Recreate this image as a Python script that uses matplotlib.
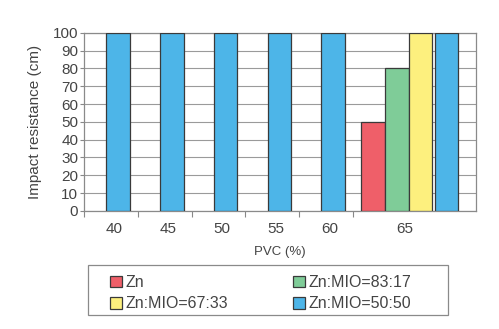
import numpy as np
import matplotlib
matplotlib.use("Agg")
import matplotlib.pyplot as plt
from matplotlib.patches import Patch, Rectangle

plt.rcParams["font.family"] = ["Liberation Sans", "DejaVu Sans"]

# data
pvc = ["40", "45", "50", "55", "60", "65"]
blue_5050 = [100, 100, 100, 100, 100, 100]
zn_65 = 50
mio_8317_65 = 80
mio_6733_65 = 100

series_names = ["Zn", "Zn:MIO=83:17", "Zn:MIO=67:33", "Zn:MIO=50:50"]
colors = ["#ef5f69", "#7fcc98", "#fdf07e", "#4db5e8"]
edge = "#3a3a3a"
text_c = "#444444"

# category boundaries (last group is wider, holds all four series)
cat_w = [1, 1, 1, 1, 1, 2.28]
edges = np.concatenate([[0], np.cumsum(cat_w)])
bw = 0.44

W, H = 499, 329
fig = plt.figure(figsize=(W / 100, H / 100), dpi=100)
ax = fig.add_axes([0.168, 0.359, 0.786, 0.541])

# single-series categories
for i in range(5):
    ax.bar(edges[i] + 0.41, blue_5050[i], width=bw, align="edge",
           color=colors[3], edgecolor=edge, linewidth=0.9, zorder=3)

# last category: four bars
x0 = edges[5] + 0.15
vals65 = [zn_65, mio_8317_65, mio_6733_65, blue_5050[5]]
for k, v in enumerate(vals65):
    off = k * bw + (0.04 if k == 3 else 0)
    ax.bar(x0 + off, v, width=bw, align="edge",
           color=colors[k], edgecolor=edge, linewidth=0.9, zorder=3)

ax.set_xlim(edges[0], edges[-1])
ax.set_ylim(0, 100)
ax.set_yticks(np.arange(0, 101, 10))
ax.yaxis.grid(True, color="#9a9a9a", linewidth=0.8, zorder=0)
ax.set_axisbelow(True)

# category ticks at boundaries, labels near bars
ax.set_xticks(edges[:-1], minor=False)
ax.set_xticklabels([])
label_pos = [edges[i] + 0.57 for i in range(5)] + [edges[5] + 0.96]
ax.set_xticks(label_pos, minor=True)
ax.set_xticklabels(pvc, minor=True)
ax.tick_params(axis="x", which="minor", length=0, pad=8, labelsize=11, labelcolor=text_c)
ax.tick_params(axis="x", which="major", length=4, color="#888888")
ax.tick_params(axis="y", length=3, color="#888888", labelsize=11, labelcolor=text_c, pad=1)

for s in ax.spines.values():
    s.set_color("#8a8a8a")
    s.set_linewidth(0.9)

ax.set_ylabel("Impact resistance (cm)", fontsize=11, color=text_c, labelpad=8)
ax.set_xlabel("PVC (%)", fontsize=9.5, color=text_c, labelpad=7)

# legend box
fig.patches.append(Rectangle((88 / W, 1 - 315 / H), 360 / W, 50 / H,
                             transform=fig.transFigure, fill=False,
                             edgecolor="#8a8a8a", linewidth=0.9))

handles = [Patch(facecolor=c, edgecolor=edge, linewidth=0.9) for c in colors]
order = [0, 2, 1, 3]
leg = fig.legend([handles[i] for i in order], [series_names[i] for i in order],
                 ncol=2, loc="upper left", bbox_to_anchor=(110 / W, 1 - 275 / H),
                 frameon=False, fontsize=11.5,
                 handlelength=0.75, handleheight=0.75, handletextpad=0.2,
                 columnspacing=4.1, labelspacing=0.4, borderpad=0,
                 borderaxespad=0, labelcolor=text_c)

fig.savefig("out.png", dpi=100)
